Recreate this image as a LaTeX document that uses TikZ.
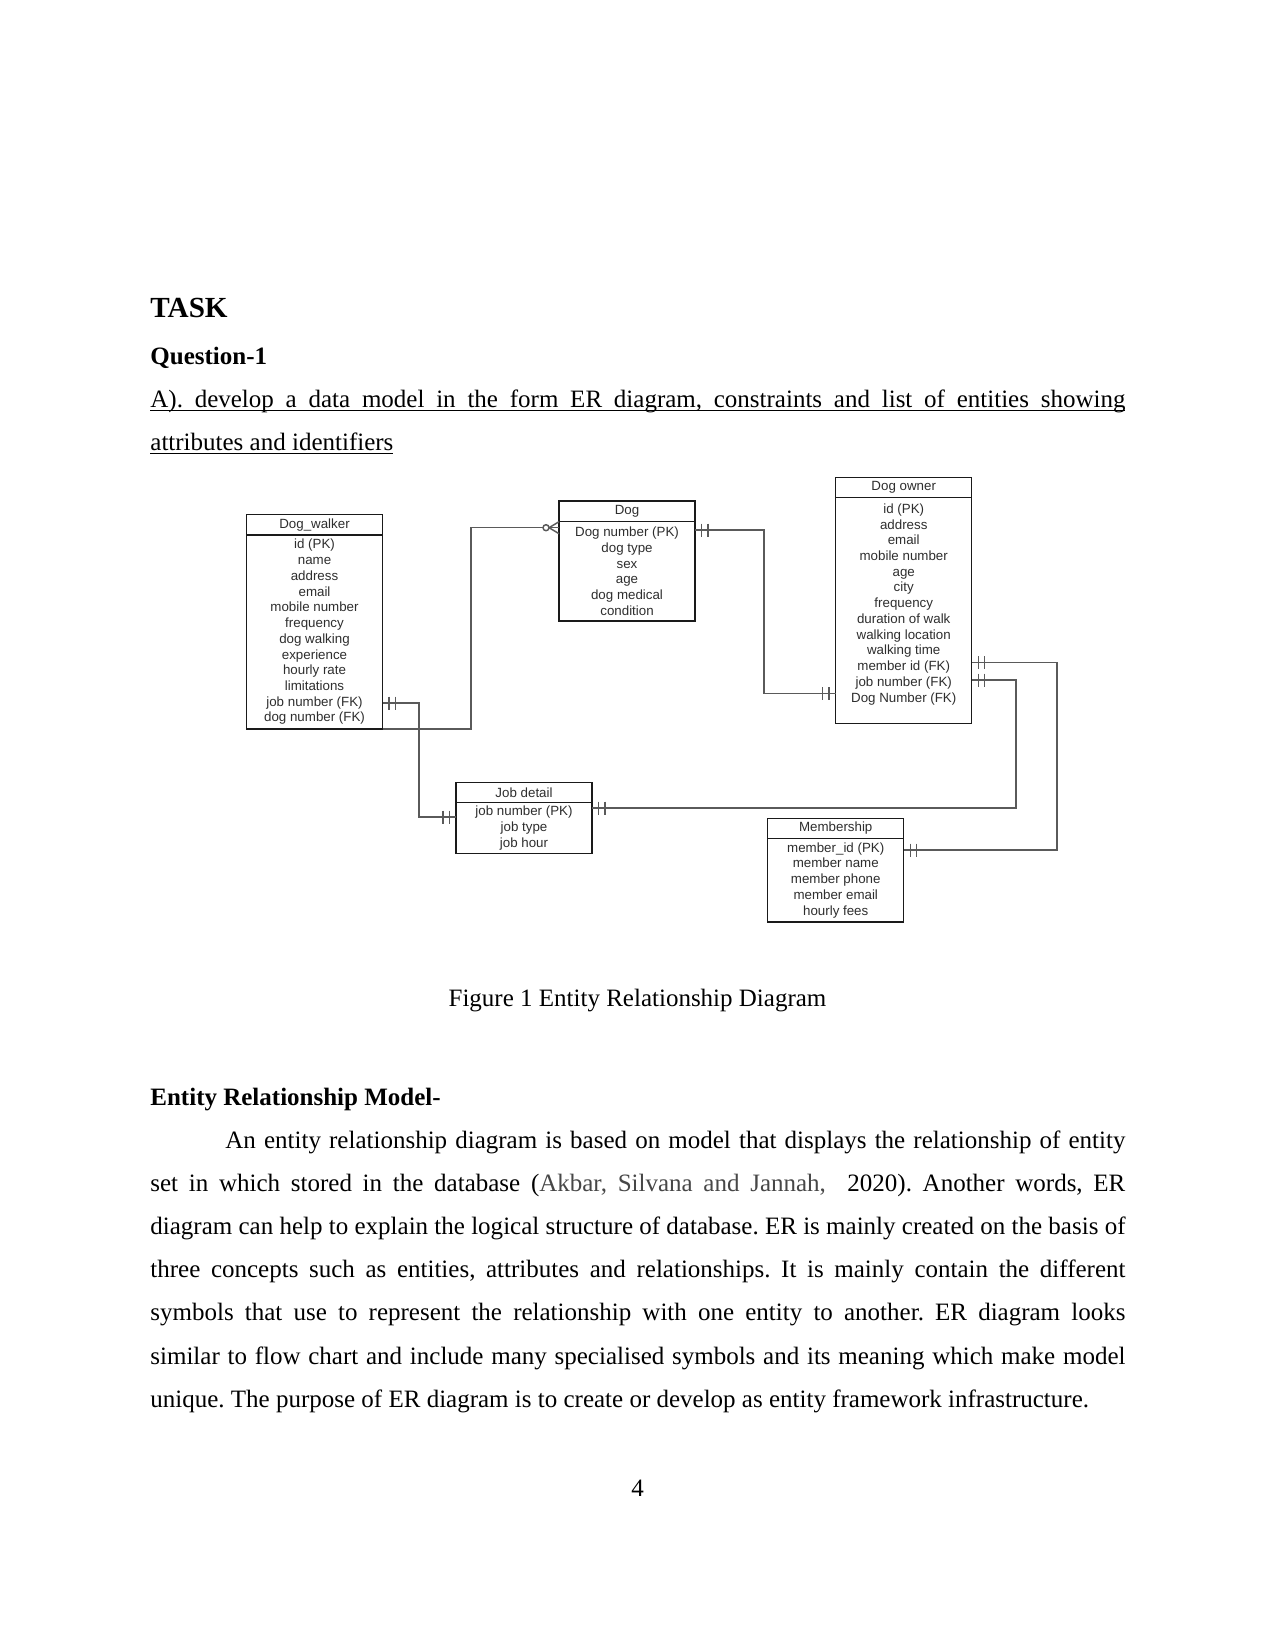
\documentclass[tikz,border=0pt]{standalone}
\usepackage{fontspec}
\setmainfont{Liberation Serif}
\newfontfamily\erfont{Liberation Sans}
\usetikzlibrary{positioning}
\definecolor{ERLine}{HTML}{5A5A5A}
\definecolor{ERBox}{HTML}{1A1A1A}
\definecolor{ERText}{HTML}{2E2E2E}
\newcommand{\fullline}[1]{\makebox[468pt][s]{#1}}
\newcommand{\indline}[1]{\makebox[432pt][s]{#1}}
\newcommand{\ultext}[1]{\underline{\smash{#1}}}
\frenchspacing

\begin{document}
\begin{tikzpicture}[x=0.48pt, y=-0.48pt,
    txt/.style={inner sep=0pt, font=\fontsize{12}{14}\selectfont},
    ent/.style={draw=ERBox, line width=0.65pt, minimum width=65.3pt, inner sep=0pt,
                outer sep=0pt, text=ERText, align=center,
                font=\erfont\fontsize{6.4}{7.55}\selectfont},
    rel/.style={draw=ERLine, line width=0.7pt},
    one/.pic={\draw[rel] (6.5,-6.5) -- (6.5,6.5) (13,-6.5) -- (13,6.5);},
    many/.pic={\draw[rel] (-10,0) -- (0,-6) (-10,0) -- (0,6);
               \draw[rel, fill=white] (-13,0) circle[radius=3];},
  ]
  \fill[white] (0,0) rectangle (1275,1651);
  \useasboundingbox (0,0) rectangle (1275,1651);

  % page text above the figure
  \node[txt, anchor=base west] (task) at (150,317.5) {\fontsize{14}{16}\selectfont\bfseries TASK};
  \node[txt, anchor=base west] (q1) at (150,364) {\bfseries Question-1};
  \node[txt, anchor=base west] (qa) at (150,407.5)
       {\ultext{\fullline{A). develop a data model in the form ER diagram, constraints and list of entities showing}}};
  \node[txt, anchor=base west] (qb) at (150,450.5) {\ultext{attributes and identifiers}};

  % entities
  \node[ent, minimum height=9.84pt, anchor=north west] (dw) at (246.5,514.5) {Dog\_walker};
  \node[ent, minimum height=93.1pt, below=0pt of dw] (dw-a)
       {id (PK)\\name\\address\\email\\mobile number\\frequency\\dog walking\\experience\\hourly rate\\limitations\\job number (FK)\\dog number (FK)};

  \node[ent, minimum height=9.74pt, anchor=north west] (dg) at (559,501) {Dog};
  \node[ent, minimum height=47.9pt, below=0pt of dg] (dg-a)
       {Dog number (PK)\\dog type\\sex\\age\\dog medical\\condition};

  \node[ent, minimum height=9.8pt, anchor=north west] (do) at (835.7,477.3) {Dog owner};
  \node[ent, minimum height=108.5pt, below=0pt of do] (do-a)
       {id (PK)\\address\\email\\mobile number\\age\\city\\frequency\\duration of walk\\walking location\\walking time\\member id (FK)\\job number (FK)\\Dog Number (FK)\\ \mbox{}};

  \node[ent, minimum height=9.6pt, anchor=north west] (jd) at (456,782.3) {Job detail};
  \node[ent, minimum height=24.7pt, below=0pt of jd] (jd-a)
       {job number (PK)\\job type\\job hour};

  \node[ent, minimum height=9.6pt, anchor=north west] (ms) at (767.7,818.3) {Membership};
  \node[ent, minimum height=40.2pt, below=0pt of ms] (ms-a)
       {member\_id (PK)\\member name\\member phone\\member email\\hourly fees};

  % relationships
  \draw[rel] (dw-a.east |- 0,703) -| (419,817) -- (jd-a.west |- 0,817);
  \path (dw-a.east |- 0,703) pic{one} (jd-a.west |- 0,817) pic[xscale=-1]{one};

  \draw[rel] (dw-a.south east) -| (471,527.7) -- (dg-a.west |- 0,527.7);
  \path (dg-a.west |- 0,527.7) pic{many};

  \draw[rel] (dg-a.east |- 0,530) -| (764,693.7) -- (do-a.west |- 0,693.7);
  \path (dg-a.east |- 0,530) pic{one} (do-a.west |- 0,693.7) pic[xscale=-1]{one};

  \draw[rel] (do-a.east |- 0,662.5) -| (1057,850) -- (ms-a.east |- 0,850);
  \path (do-a.east |- 0,662.5) pic{one} (ms-a.east |- 0,850) pic{one};

  \draw[rel] (do-a.east |- 0,680) -| (1016,808) -- (jd-a.east |- 0,808);
  \path (do-a.east |- 0,680) pic{one} (jd-a.east |- 0,808) pic{one};

  % caption and text below the figure
  \node[txt, anchor=base] (cap) at (637.5,1006.5) {Figure 1 Entity Relationship Diagram};
  \node[txt, anchor=base west] (erm) at (150,1105) {\bfseries Entity Relationship Model-};
  \node[txt, anchor=base west] (p1) at (225,1148)
       {\indline{An entity relationship diagram is based on model that displays the relationship of entity}};
  \node[txt, anchor=base west] (p2) at (150,1191.2)
       {\fullline{set in which stored in the database ({\color{black!72}Akbar, Silvana and Jannah,}\ \ 2020). Another words, ER}};
  \node[txt, anchor=base west] (p3) at (150,1234.4)
       {\fullline{diagram can help to explain the logical structure of database. ER is mainly created on the basis of}};
  \node[txt, anchor=base west] (p4) at (150,1277.6)
       {\fullline{three concepts such as entities, attributes and relationships. It is mainly contain the different}};
  \node[txt, anchor=base west] (p5) at (150,1320.8)
       {\fullline{symbols that use to represent the relationship with one entity to another. ER diagram looks}};
  \node[txt, anchor=base west] (p6) at (150,1364)
       {\fullline{similar to flow chart and include many specialised symbols and its meaning which make model}};
  \node[txt, anchor=base west] (p7) at (150,1407.2)
       {unique. The purpose of ER diagram is to create or develop as entity framework infrastructure.};
  \node[txt, anchor=base] (pg) at (637.5,1496) {4};
\end{tikzpicture}
\end{document}
